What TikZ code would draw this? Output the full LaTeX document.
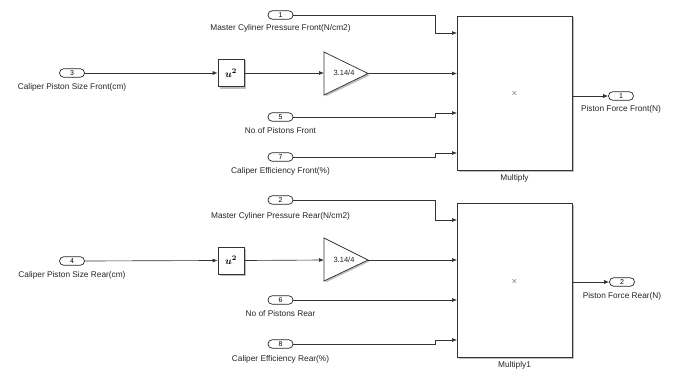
\documentclass[tikz,border=0pt]{standalone}
\usepackage{fontspec}
\usepackage{bm}
\setmainfont{Liberation Sans}
\usetikzlibrary{arrows.meta,calc}
\begin{document}
\begin{tikzpicture}[x=1pt,y=-1pt,
  port/.style={draw=black!85,line width=0.7pt,rounded corners=4.2pt,minimum width=25pt,minimum height=8.5pt,inner sep=0pt,font=\fontsize{7}{7}\selectfont},
  lbl/.style={font=\fontsize{8.3}{9}\selectfont,inner sep=0pt,text=black!85},
  blk/.style={draw=black!80,line width=0.75pt,fill=white,inner sep=0pt},
  shadow/.style={fill=black!25,draw=none},
  wire/.style={draw=black!80,line width=0.65pt,-{Latex[length=5pt,width=4pt]}},
  plain/.style={draw=black!75,line width=0.6pt}]
\useasboundingbox (0,0) rectangle (674,369);
\fill[white] (0,0) rectangle (674,369);

% ===== Front =====
\node[port] (in1) at (280.5,15) {1};
\node[lbl] (l1) at (280.5,28) {Master Cyliner Pressure Front(N/cm2)};
\node[port] (in3) at (72,73) {3};
\node[lbl] (l3) at (72,87) {Caliper Piston Size Front(cm)};
\node[port] (in5) at (280.5,117) {5};
\node[lbl] (l5) at (280.5,131) {No of Pistons Front};
\node[port] (in7) at (280.5,157) {7};
\node[lbl] (l7) at (280.5,171) {Caliper Efficiency Front(\%)};

\fill[shadow] (219.5,60.5) rectangle (245.5,88.5);
\node[blk,minimum width=26pt,minimum height=27pt] (sq1) at (231,73) {$\bm{u}^{\bm{2}}$};

\fill[shadow] (325.5,53.5) -- (325.5,96.5) -- (369.5,75.5) -- cycle;
\draw[blk] (324,52) -- (324,95) -- (368,73.5) -- cycle;
\coordinate (g1in) at (324,73);
\coordinate (g1out) at (368,73.5);
\node[lbl,font=\fontsize{7.5}{8}\selectfont] (g1) at (344,73) {3.14/4};

\fill[shadow] (458.5,17.5) rectangle (573.5,171.5);
\node[blk,minimum width=115pt,minimum height=154pt] (m1) at (514.5,93) {};
\node[lbl] (x1) at (514.5,93) {$\times$};
\node[lbl] (lm1) at (514.5,178) {Multiply};

\node[port] (out1) at (621,96) {1};
\node[lbl] (lo1) at (621,109) {Piston Force Front(N)};

\coordinate (m1a) at (457,33);
\coordinate (m1b) at (457,73.5);
\coordinate (m1c) at (457,113);
\coordinate (m1d) at (457,153);
\coordinate (m1o) at (572,96);

\draw[wire] (in1.east) -- (435,15) |- (m1a);
\draw[wire] (in3.east) -- (sq1.west);
\draw[wire] (sq1.east) -- (g1in);
\draw[wire] (g1out) -- (m1b);
\draw[wire] (in5.east) -- (435,117) |- (m1c);
\draw[wire] (in7.east) -- (435,157) |- (m1d);
\draw[wire] (m1o) -- (out1.west);

% ===== Rear =====
\node[port] (in2) at (280.5,200) {2};
\node[lbl] (l2) at (280.5,216) {Master Cyliner Pressure Rear(N/cm2)};
\node[port] (in4) at (72,261) {4};
\node[lbl] (l4) at (72,275) {Caliper Piston Size Rear(cm)};
\node[port] (in6) at (280.5,300) {6};
\node[lbl] (l6) at (280.5,314) {No of Pistons Rear};
\node[port] (in8) at (280.5,344) {8};
\node[lbl] (l8) at (280.5,359) {Caliper Efficiency Rear(\%)};

\fill[shadow] (219.5,248.5) rectangle (245.5,275.5);
\node[blk,minimum width=26pt,minimum height=27pt] (sq2) at (231,260.5) {$\bm{u}^{\bm{2}}$};

\fill[shadow] (325.5,239.5) -- (325.5,282.5) -- (369.5,261.5) -- cycle;
\draw[blk] (324,238) -- (324,281) -- (368,260) -- cycle;
\coordinate (g2in) at (324,260);
\coordinate (g2out) at (368,260);
\node[lbl,font=\fontsize{7.5}{8}\selectfont] (g2) at (344,260) {3.14/4};

\fill[shadow] (458.5,204.5) rectangle (573.5,358.5);
\node[blk,minimum width=115pt,minimum height=154pt] (m2) at (514.5,280) {};
\node[lbl] (x2) at (514.5,281) {$\times$};
\node[lbl] (lm2) at (514.5,365) {Multiply1};

\node[port] (out2) at (622,282) {2};
\node[lbl] (lo2) at (622,296) {Piston Force Rear(N)};

\coordinate (m2a) at (457,220);
\coordinate (m2b) at (457,260);
\coordinate (m2c) at (457,300);
\coordinate (m2d) at (457,340);
\coordinate (m2o) at (572,282);

\draw[wire] (in2.east) -- (435,200) |- (m2a);
\draw[wire] (in4.east) -- (sq2.west);
\draw[wire] (sq2.east) -- (g2in);
\draw[wire] (g2out) -- (m2b);
\draw[wire] (in6.east) -- (m2c);
\draw[wire] (in8.east) -- (435,344) |- (m2d);
\draw[wire] (m2o) -- (out2.west);
\end{tikzpicture}
\end{document}
